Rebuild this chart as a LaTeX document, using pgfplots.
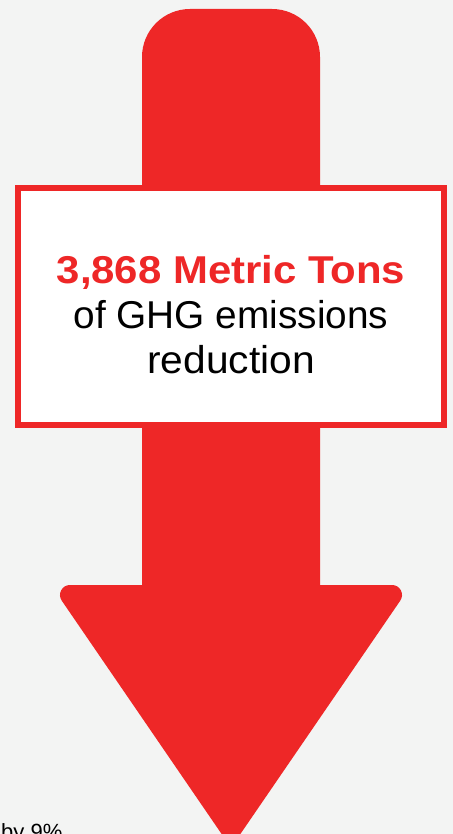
\documentclass[border=0pt]{standalone}
\usepackage{pgfplots}
\pgfplotsset{compat=1.18}
\usepackage{fontspec}
\setmainfont{Liberation Sans}
\definecolor{arrowred}{RGB}{238,39,39}
\definecolor{bg}{RGB}{243,244,243}
\begin{document}
\begin{tikzpicture}
\begin{axis}[width=453bp,height=834bp,scale only axis,
  xmin=0,xmax=453,ymin=0,ymax=834,y dir=reverse,
  hide axis, clip=true]
% background
\addplot[fill=bg,draw=none] coordinates {(-5,-5) (460,-5) (460,840) (-5,840)} -- cycle;
% shaft
\addplot[fill=arrowred,draw=none,rounded corners=48bp] coordinates {(142,620) (142,9) (320,9) (320,620)};
% head
\addplot[fill=arrowred,draw=arrowred,line width=20bp,line join=round] coordinates {(70,595) (392,595) (231,830)} -- cycle;
% box
\addplot[fill=white,draw=arrowred,line width=5.7bp] coordinates {(17.85,187.85) (444.15,187.85) (444.15,425.15) (17.85,425.15)} -- cycle;
\node[anchor=base,text=arrowred,font=\fontsize{38.8bp}{45bp}\selectfont\bfseries] at (axis cs:231,283) {\scalebox{1.08}[1]{3,868 Metric Tons}};
\node[anchor=base,font=\fontsize{38.8bp}{45bp}\selectfont] at (axis cs:231,328) {of GHG emissions};
\node[anchor=base,font=\fontsize{38.8bp}{45bp}\selectfont] at (axis cs:231,373) {\scalebox{1.05}[1]{reduction}};
\node[anchor=base west,inner sep=0pt,font=\fontsize{22bp}{26bp}\selectfont] at (axis cs:1,839) {by 9\%};
\end{axis}
\pgfresetboundingbox
\useasboundingbox (current axis.south west) rectangle (current axis.north east);
\end{tikzpicture}
\end{document}
